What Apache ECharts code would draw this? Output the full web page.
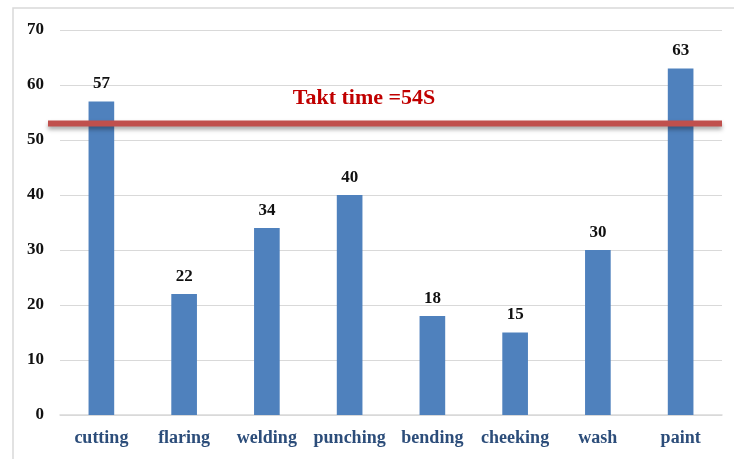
<!DOCTYPE html>
<html><head><meta charset="utf-8">
<script src="https://cdn.jsdelivr.net/npm/echarts@6/dist/echarts.min.js"></script>
<style>html,body{margin:0;padding:0;background:#fff}#c{width:734px;height:459px}</style>
</head><body><div id="c"></div>
<script>
const categories = ['cutting','flaring','welding','punching','bending','cheeking','wash','paint'];
const values = [57,22,34,40,18,15,30,63];
const yTicks = {min:0, max:70, interval:10};
const taktValue = 53;
const taktLabel = 'Takt time =54S';

const chart = echarts.init(document.getElementById('c'));
const serif = '"Liberation Serif","Times New Roman",serif';
chart.setOption({
  animation:false,
  grid:{left:60,right:12,top:30,bottom:44},
  xAxis:{type:'category',data:categories,
    axisLine:{lineStyle:{color:'#d9d9d9',width:1.5}},axisTick:{show:false},
    axisLabel:{interval:0,margin:14,fontFamily:serif,fontWeight:'bold',fontSize:18,color:'#2C4D7A'}},
  yAxis:{type:'value',min:yTicks.min,max:yTicks.max,interval:yTicks.interval,
    axisLine:{show:false},axisTick:{show:false},
    splitLine:{lineStyle:{color:'#d9d9d9',width:1.2}},
    axisLabel:{margin:16,fontFamily:serif,fontWeight:'bold',fontSize:17,color:'#111'}},
  series:[{type:'bar',data:values,barWidth:'31%',
    itemStyle:{color:'#4F81BD'},
    label:{show:true,position:'top',distance:9,fontFamily:serif,fontWeight:'bold',fontSize:17,color:'#111'}}]
});
const yPix = chart.convertToPixel({yAxisIndex:0}, taktValue);
chart.setOption({graphic:[
  {type:'rect',shape:{x:13,y:8,width:740,height:470},style:{fill:null,stroke:'#d9d9d9',lineWidth:1.5},silent:true},
  {type:'line',shape:{x1:48,y1:yPix,x2:722,y2:yPix},z:100,
    style:{stroke:'#C0504D',lineWidth:6,shadowBlur:4,shadowOffsetY:3,shadowColor:'rgba(0,0,0,0.35)'}},
  {type:'text',x:364,y:yPix-25,z:100,style:{text:taktLabel,fill:'#C00000',font:'bold 22px '+serif,align:'center',verticalAlign:'middle'}}
]});
</script></body></html>
